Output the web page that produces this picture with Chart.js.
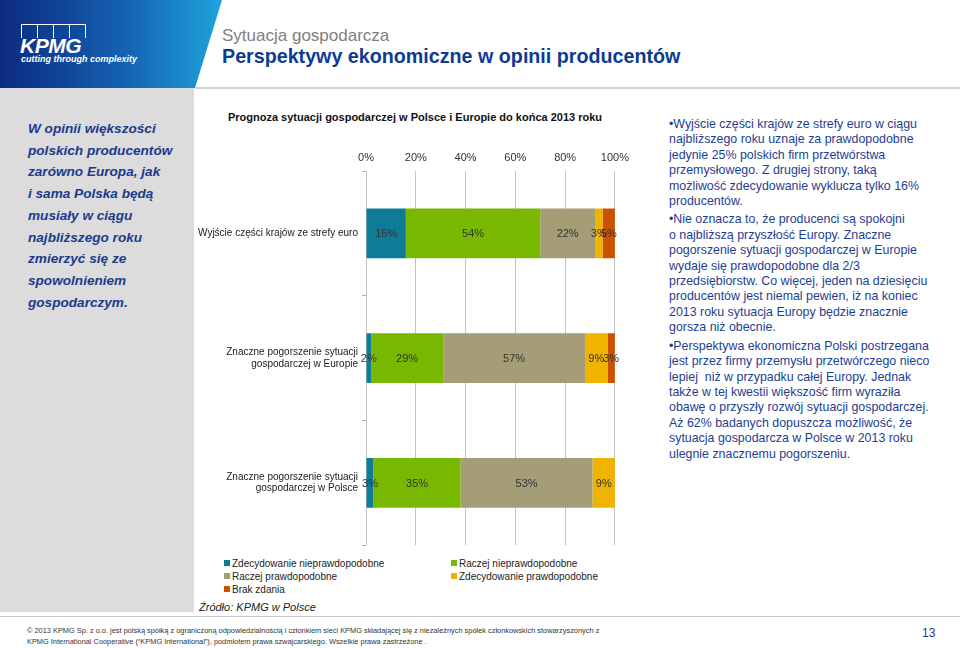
<!DOCTYPE html>
<html>
<head>
<meta charset="utf-8">
<script src="https://cdn.jsdelivr.net/npm/chart.js@4"></script>
<style>
  body { margin: 0; width: 960px; height: 648px; position: relative; overflow: hidden; background: #fff; font-family: "Liberation Sans", Arial, sans-serif; }
  .abs { position: absolute; }
  #header { left: 0; top: 0; width: 222px; height: 88px; background: linear-gradient(90deg, #0b2a80 0%, #1560b0 55%, #1ea3dc 100%); clip-path: polygon(0 0, 222px 0, 195px 88px, 0 88px); }
  #hline { left: 195px; top: 87px; width: 765px; height: 2px; background: #d4d4d4; }
  #leftpanel { left: 0; top: 88px; width: 194px; height: 524px; background: #dcdcdc; }
  #footline { left: 0; top: 616px; width: 960px; height: 1px; background: #c8c8c8; }
  .box { position: absolute; top: 24px; width: 15px; height: 13px; border: 1px solid #fff; border-bottom: none; }
  #logo { left: 20px; top: 34px; color: #fff; font-weight: bold; font-style: italic; font-size: 21px; letter-spacing: -0.5px; }
  #tag { left: 21px; top: 54px; color: #fff; font-weight: bold; font-style: italic; font-size: 9px; }
  #sub { left: 222px; top: 26px; color: #808080; font-size: 17px; }
  #title { left: 222px; top: 45px; color: #0d3a92; font-weight: bold; font-size: 19.7px; }
  #lefttext { left: 28px; top: 118px; color: #1b3a8c; font-weight: bold; font-style: italic; font-size: 13.6px; line-height: 21.7px; }
  #righttext { left: 669px; top: 117px; color: #1e3e90; font-size: 12.4px; line-height: 15.4px; }
  #righttext p { margin: 0 0 3px 0; }
  #ctitle { left: 195px; top: 111px; width: 440px; text-align: center; font-weight: bold; font-size: 11px; color: #111; }
  #chartbox { left: 195px; top: 140px; width: 440px; height: 415px; }
  #legend { left: 224px; top: 557px; font-size: 10px; color: #222; }
  .li { position: absolute; white-space: nowrap; line-height: 13px; }
  .li span { display: inline-block; width: 6px; height: 6px; margin-right: 2px; vertical-align: 1px; }
  #source { left: 199px; top: 601px; font-style: italic; font-size: 11px; color: #222; }
  #footer { left: 27px; top: 625px; font-size: 7.4px; line-height: 11px; color: #333; }
  #page { left: 922px; top: 626px; font-size: 12px; color: #1e3e90; }
</style>
</head>
<body>
<div id="header" class="abs"></div>
<div class="box" style="left:21px"></div>
<div class="box" style="left:37px"></div>
<div class="box" style="left:53px"></div>
<div class="box" style="left:69px"></div>
<div id="logo" class="abs">KPMG</div>
<div id="tag" class="abs">cutting through complexity</div>
<div id="hline" class="abs"></div>
<div id="sub" class="abs">Sytuacja gospodarcza</div>
<div id="title" class="abs">Perspektywy ekonomiczne w opinii producentów</div>
<div id="leftpanel" class="abs"></div>
<div id="lefttext" class="abs">W opinii większości<br>polskich producentów<br>zarówno Europa, jak<br>i sama Polska będą<br>musiały w ciągu<br>najbliższego roku<br>zmierzyć się ze<br>spowolnieniem<br>gospodarczym.</div>
<div id="ctitle" class="abs">Prognoza sytuacji gospodarczej w Polsce i Europie do końca 2013 roku</div>
<div id="chartbox" class="abs"><canvas id="chart"></canvas></div>
<div id="legend" class="abs"></div>
<div id="source" class="abs">Źródło: KPMG w Polsce</div>
<div id="righttext" class="abs">
<p>•Wyjście części krajów ze strefy euro w ciągu<br>najbliższego roku uznaje za prawdopodobne<br>jedynie 25% polskich firm przetwórstwa<br>przemysłowego. Z drugiej strony, taką<br>możliwość zdecydowanie wyklucza tylko 16%<br>producentów.</p>
<p>•Nie oznacza to, że producenci są spokojni<br>o najbliższą przyszłość Europy. Znaczne<br>pogorszenie sytuacji gospodarczej w Europie<br>wydaje się prawdopodobne dla 2/3<br>przedsiębiorstw. Co więcej, jeden na dziesięciu<br>producentów jest niemal pewien, iż na koniec<br>2013 roku sytuacja Europy będzie znacznie<br>gorsza niż obecnie.</p>
<p>•Perspektywa ekonomiczna Polski postrzegana<br>jest przez firmy przemysłu przetwórczego nieco<br>lepiej&nbsp; niż w przypadku całej Europy. Jednak<br>także w tej kwestii większość firm wyraziła<br>obawę o przyszły rozwój sytuacji gospodarczej.<br>Aż 62% badanych dopuszcza możliwość, że<br>sytuacja gospodarcza w Polsce w 2013 roku<br>ulegnie znacznemu pogorszeniu.</p>
</div>
<div id="footline" class="abs"></div>
<div id="footer" class="abs">© 2013 KPMG Sp. z o.o. jest polską spółką z ograniczoną odpowiedzialnością i członkiem sieci KPMG składającej się z niezależnych spółek członkowskich stowarzyszonych z<br>KPMG International Cooperative (“KPMG International”), podmiotem prawa szwajcarskiego. Wszelkie prawa zastrzeżone .</div>
<div id="page" class="abs">13</div>

<script>
var categories = [
    'Wyjście części krajów ze strefy euro',
    ['Znaczne pogorszenie sytuacji', 'gospodarczej w Europie'],
    ['Znaczne pogorszenie sytuacji', 'gospodarczej w Polsce']
];
var seriesNames = ['Zdecydowanie nieprawdopodobne', 'Raczej nieprawdopodobne', 'Raczej prawdopodobne', 'Zdecydowanie prawdopodobne', 'Brak zdania'];
var seriesColors = ['#0e7c96', '#78b800', '#a49d76', '#f0b400', '#cc5200'];
var definitelyNot = [16, 2, 3];
var ratherNot = [54, 29, 35];
var ratherYes = [22, 57, 53];
var definitelyYes = [3, 9, 9];
var noOpinion = [5, 3, 0];
var tickValues = [0, 20, 40, 60, 80, 100];

var seriesValues = [definitelyNot, ratherNot, ratherYes, definitelyYes, noOpinion];

// labels in the middle of every segment
var barLabels = {
    id: 'barLabels',
    afterDatasetsDraw: function (chart) {
        var ctx = chart.ctx;
        ctx.save();
        ctx.font = '11px "Liberation Sans", Arial, sans-serif';
        ctx.fillStyle = '#333';
        ctx.textAlign = 'center';
        ctx.textBaseline = 'middle';
        chart.data.datasets.forEach(function (ds, i) {
            chart.getDatasetMeta(i).data.forEach(function (bar, j) {
                var v = ds.data[j];
                if (!v) return;
                ctx.fillText(v + '%', (bar.x + bar.base) / 2, bar.y + 1);
            });
        });
        ctx.restore();
    }
};

var ctx = document.getElementById('chart').getContext('2d');
new Chart(ctx, {
    type: 'bar',
    data: {
        labels: categories,
        datasets: seriesNames.map(function (name, i) {
            return {
                label: name,
                data: seriesValues[i],
                backgroundColor: seriesColors[i],
                borderWidth: 0,
                barPercentage: 0.4,
                categoryPercentage: 1
            };
        })
    },
    options: {
        indexAxis: 'y',
        responsive: true,
        maintainAspectRatio: false,
        animation: false,
        layout: { padding: { left: 0, right: 15, top: 0, bottom: 7 } },
        plugins: { legend: { display: false }, tooltip: { enabled: false } },
        scales: {
            x: {
                position: 'top',
                stacked: true,
                min: 0,
                max: 100,
                afterBuildTicks: function (scale) {
                    scale.ticks = tickValues.map(function (v) { return { value: v }; });
                },
                afterFit: function (scale) { scale.height = 31; },
                grid: { color: '#c4c4c4', lineWidth: 1, drawTicks: false },
                border: { display: false },
                ticks: {
                    padding: 6,
                    color: '#333',
                    font: { family: '"Liberation Sans", Arial, sans-serif', size: 11 },
                    callback: function (v) { return v + '%'; }
                }
            },
            y: {
                stacked: true,
                afterFit: function (scale) { scale.width = 171; },
                grid: { drawOnChartArea: false, drawTicks: true, tickLength: 4, color: '#b0b0b0', offset: true },
                border: { display: false },
                ticks: {
                    padding: 4,
                    color: '#222',
                    font: { family: '"Liberation Sans", Arial, sans-serif', size: 10, lineHeight: 1.15 }
                }
            }
        }
    },
    plugins: [barLabels]
});

// legend in the same order as the slide
var legendPos = [[0, 0], [227, 0], [0, 13], [227, 13], [0, 26]];
var legend = document.getElementById('legend');
seriesNames.forEach(function (name, i) {
    var item = document.createElement('div');
    item.className = 'li';
    item.style.left = legendPos[i][0] + 'px';
    item.style.top = legendPos[i][1] + 'px';
    item.innerHTML = '<span style="background:' + seriesColors[i] + '"></span>' + name;
    legend.appendChild(item);
});
</script>
</body>
</html>
